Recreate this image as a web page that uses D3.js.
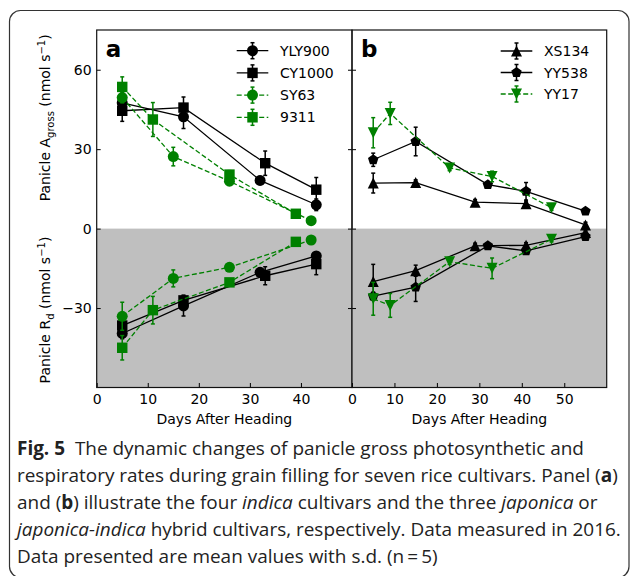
<!DOCTYPE html>
<html>
<head>
<meta charset="utf-8">
<script src="https://cdn.jsdelivr.net/npm/d3@7"></script>
<style>
  html, body { margin: 0; padding: 0; background: #fff; }
  svg { display: block; }
</style>
</head>
<body>
<svg id="fig" width="630" height="576"></svg>
<script>
// ---------- data: panel a (indica cultivars) ----------
const yly900Days   = [5, 17, 32, 43];
const yly900Gross  = [47.5, 42.2, 18.2, 9.0];
const yly900GrossSd = [1.5, 4.4, 1.5, 2.2];
const yly900Rd     = [-39.6, -29.2, -16.5, -10.3];
const yly900RdSd   = [2.0, 3.8, 1.5, 1.5];

const cy1000Days   = [5, 17, 33, 43];
const cy1000Gross  = [44.5, 45.7, 24.7, 14.7];
const cy1000GrossSd = [4.0, 4.0, 4.6, 4.6];
const cy1000Rd     = [-36.6, -27.1, -17.8, -13.4];
const cy1000RdSd   = [2.0, 2.0, 3.4, 4.0];

const sy63Days     = [5, 15, 26, 42];
const sy63Gross    = [49.5, 27.2, 17.9, 3.0];
const sy63GrossSd  = [2.0, 3.5, 1.0, 1.0];
const sy63Rd       = [-33.1, -18.8, -14.6, -4.3];
const sy63RdSd     = [5.3, 3.2, 1.0, 1.0];

const r9311Days    = [5, 11, 26, 39];
const r9311Gross   = [53.5, 41.2, 20.4, 5.6];
const r9311GrossSd = [3.8, 6.4, 1.5, 1.0];
const r9311Rd      = [-45.0, -30.8, -20.3, -5.0];
const r9311RdSd    = [4.6, 5.2, 1.0, 1.0];

// ---------- data: panel b (japonica / japonica-indica cultivars) ----------
const xs134Days    = [5, 15, 29, 41, 55];
const xs134Gross   = [17.2, 17.4, 10.0, 9.4, 1.4];
const xs134GrossSd = [3.75, 1.0, 1.0, 1.0, 1.0];
const xs134Rd      = [-20.0, -15.9, -6.5, -6.3, -1.5];
const xs134RdSd    = [6.5, 2.1, 1.0, 1.0, 1.0];

const yy538Days    = [5, 15, 32, 41, 55];
const yy538Gross   = [26.0, 32.9, 16.6, 14.1, 6.6];
const yy538GrossSd = [2.5, 5.4, 1.0, 3.3, 1.0];
const yy538Rd      = [-25.5, -22.1, -6.5, -8.4, -3.0];
const yy538RdSd    = [1.5, 5.4, 1.0, 1.0, 1.0];

const yy17Days     = [5, 9, 23, 33, 47];
const yy17Gross    = [36.2, 43.5, 22.9, 19.7, 7.9];
const yy17GrossSd  = [5.7, 4.2, 1.0, 2.0, 1.0];
const yy17Rd       = [-26.5, -29.0, -12.5, -15.0, -4.0];
const yy17RdSd     = [6.2, 4.5, 1.0, 3.9, 1.0];

// ---------- tick labels ----------
const xTicksA = [0, 10, 20, 30, 40];
const xTicksB = [0, 10, 20, 30, 40, 50];
const yTicks  = [-30, 0, 30, 60];

// ---------- styles ----------
const GREEN = "#008000";
const BLACK = "#000000";
const FONT = "'DejaVu Sans', sans-serif";

const seriesA = [
  { name: "YLY900", days: yly900Days, gross: yly900Gross, grossSd: yly900GrossSd, rd: yly900Rd, rdSd: yly900RdSd, color: BLACK, dash: null, shape: "circle" },
  { name: "CY1000", days: cy1000Days, gross: cy1000Gross, grossSd: cy1000GrossSd, rd: cy1000Rd, rdSd: cy1000RdSd, color: BLACK, dash: null, shape: "square" },
  { name: "SY63",   days: sy63Days,   gross: sy63Gross,   grossSd: sy63GrossSd,   rd: sy63Rd,   rdSd: sy63RdSd,   color: GREEN, dash: "5,2.5", shape: "circle" },
  { name: "9311",   days: r9311Days,  gross: r9311Gross,  grossSd: r9311GrossSd,  rd: r9311Rd,  rdSd: r9311RdSd,  color: GREEN, dash: "5,2.5", shape: "square" }
];
const seriesB = [
  { name: "XS134", days: xs134Days, gross: xs134Gross, grossSd: xs134GrossSd, rd: xs134Rd, rdSd: xs134RdSd, color: BLACK, dash: null, shape: "triUp" },
  { name: "YY538", days: yy538Days, gross: yy538Gross, grossSd: yy538GrossSd, rd: yy538Rd, rdSd: yy538RdSd, color: BLACK, dash: null, shape: "pentagon" },
  { name: "YY17",  days: yy17Days,  gross: yy17Gross,  grossSd: yy17GrossSd,  rd: yy17Rd,  rdSd: yy17RdSd,  color: GREEN, dash: "5,2.5", shape: "triDown" }
];

// ---------- layout ----------
const plotTop = 30, plotBottom = 387.5;
const y = d3.scaleLinear().domain([-60, 75]).range([plotBottom, plotTop]);
const xA = d3.scaleLinear().domain([0, 50]).range([96.7, 352]);
const xB = d3.scaleLinear().domain([0, 60]).range([352, 606.7]);

const svg = d3.select("#fig");

// outer rounded frame
svg.append("rect")
  .attr("x", 9.5).attr("y", 10.5)
  .attr("width", 619.5).attr("height", 567)
  .attr("rx", 11).attr("ry", 11)
  .attr("fill", "none").attr("stroke", "#333").attr("stroke-width", 1.2);

function markerPath(shape, r) {
  switch (shape) {
    case "circle":
      return d3.symbol(d3.symbolCircle, Math.PI * r * r)();
    case "square": {
      const s = r * 0.95;
      return `M${-s},${-s}H${s}V${s}H${-s}Z`;
    }
    case "triUp":
      return `M0,${-r}L${r},${r}L${-r},${r}Z`;
    case "triDown":
      return `M0,${r}L${r},${-r}L${-r},${-r}Z`;
    case "pentagon": {
      const pts = d3.range(5).map(k => {
        const a = -Math.PI / 2 + k * 2 * Math.PI / 5;
        return [r * Math.cos(a), r * Math.sin(a)];
      });
      return "M" + pts.map(p => p.join(",")).join("L") + "Z";
    }
  }
}

const MR = 5.5;   // marker radius
const CAP = 2;    // error-bar cap half width

function drawSeries(g, x, s, valKey, sdKey) {
  const pts = s.days.map((d, i) => ({ d, v: s[valKey][i], sd: s[sdKey][i] }));
  const grp = g.append("g");
  // error bars
  const eb = grp.selectAll(".eb").data(pts).enter().append("g")
    .attr("stroke", s.color).attr("stroke-width", 1.5).attr("fill", "none");
  eb.append("line")
    .attr("x1", p => x(p.d)).attr("x2", p => x(p.d))
    .attr("y1", p => y(p.v + p.sd)).attr("y2", p => y(p.v - p.sd));
  eb.append("line")
    .attr("x1", p => x(p.d) - CAP).attr("x2", p => x(p.d) + CAP)
    .attr("y1", p => y(p.v + p.sd)).attr("y2", p => y(p.v + p.sd));
  eb.append("line")
    .attr("x1", p => x(p.d) - CAP).attr("x2", p => x(p.d) + CAP)
    .attr("y1", p => y(p.v - p.sd)).attr("y2", p => y(p.v - p.sd));
  // connecting line
  grp.append("path")
    .datum(pts)
    .attr("d", d3.line().x(p => x(p.d)).y(p => y(p.v)))
    .attr("fill", "none").attr("stroke", s.color).attr("stroke-width", 1.3)
    .attr("stroke-dasharray", s.dash);
  // markers
  grp.selectAll(".mk").data(pts).enter().append("path")
    .attr("transform", p => `translate(${x(p.d)},${y(p.v)})`)
    .attr("d", markerPath(s.shape, MR))
    .attr("fill", s.color);
}

function drawPanel(x, series, xTicks, showYLabels, rightTicks, label, legendX, legendY0, legendStep) {
  const [x0, x1] = x.range();
  const g = svg.append("g");

  // grey respiration half
  g.append("rect")
    .attr("x", x0).attr("y", y(0))
    .attr("width", x1 - x0).attr("height", y(-60) - y(0))
    .attr("fill", "#bfbfbf");

  // x axis
  const xAxis = g.append("g")
    .attr("transform", `translate(0,${plotBottom})`)
    .call(d3.axisBottom(x).tickValues(xTicks).tickSize(-4.5).tickPadding(6.5));
  xAxis.select(".domain").remove();

  // y axis
  const yAxis = g.append("g")
    .attr("transform", `translate(${x0},0)`)
    .call(d3.axisLeft(y).tickValues(yTicks).tickSize(-4).tickPadding(5)
      .tickFormat(d => d < 0 ? "\u2212" + Math.abs(d) : d));
  yAxis.select(".domain").remove();
  if (!showYLabels) yAxis.selectAll("text").remove();

  if (rightTicks) {
    const yr = g.append("g")
      .attr("transform", `translate(${x1},0)`)
      .call(d3.axisRight(y).tickValues(yTicks).tickSize(-4).tickFormat(""));
    yr.select(".domain").remove();
  }

  [xAxis, yAxis].forEach(a => {
    a.selectAll("text").attr("font-family", FONT).attr("font-size", 14).attr("fill", "#000");
    a.selectAll("line").attr("stroke", "#000").attr("stroke-width", 1);
  });
  g.selectAll(".tick line").attr("stroke", "#000");

  // data
  series.forEach(s => drawSeries(g, x, s, "gross", "grossSd"));
  series.forEach(s => drawSeries(g, x, s, "rd", "rdSd"));

  // frame
  g.append("rect")
    .attr("x", x0).attr("y", plotTop)
    .attr("width", x1 - x0).attr("height", plotBottom - plotTop)
    .attr("fill", "none").attr("stroke", "#111").attr("stroke-width", 1.2);

  // x label
  g.append("text")
    .attr("x", (x0 + x1) / 2).attr("y", 423.5)
    .attr("text-anchor", "middle")
    .attr("font-family", FONT).attr("font-size", 14)
    .text("Days After Heading");

  // panel letter
  g.append("text")
    .attr("x", x0 + 9).attr("y", 56.5)
    .attr("font-family", FONT).attr("font-size", 23).attr("font-weight", "bold")
    .text(label);

  // legend
  const lg = g.append("g");
  series.forEach((s, i) => {
    const ly = legendY0 + i * legendStep;
    const row = lg.append("g").attr("transform", `translate(${legendX},${ly})`);
    row.append("line")
      .attr("x1", 0).attr("x2", 31.6).attr("y1", 0).attr("y2", 0)
      .attr("stroke", s.color).attr("stroke-width", 1.3)
      .attr("stroke-dasharray", s.dash);
    const mx = 15.8;
    row.append("line").attr("x1", mx).attr("x2", mx).attr("y1", -8).attr("y2", 8)
      .attr("stroke", s.color).attr("stroke-width", 1.5);
    row.append("line").attr("x1", mx - CAP).attr("x2", mx + CAP).attr("y1", -8).attr("y2", -8)
      .attr("stroke", s.color).attr("stroke-width", 1.5);
    row.append("line").attr("x1", mx - CAP).attr("x2", mx + CAP).attr("y1", 8).attr("y2", 8)
      .attr("stroke", s.color).attr("stroke-width", 1.5);
    row.append("path")
      .attr("transform", `translate(${mx},0)`)
      .attr("d", markerPath(s.shape, MR))
      .attr("fill", s.color);
    row.append("text")
      .attr("x", 43.3).attr("y", 0).attr("dy", "0.36em")
      .attr("font-family", FONT).attr("font-size", 14)
      .text(s.name);
  });
}

drawPanel(xA, seriesA, xTicksA, true, true, "a", 236.7, 50.7, 22.2);
drawPanel(xB, seriesB, xTicksB, false, false, "b", 500.7, 51, 21.5);

// y axis titles (one per half)
function yTitle(cy, main, sub) {
  const t = svg.append("text")
    .attr("transform", `translate(50,${cy}) rotate(-90)`)
    .attr("text-anchor", "middle")
    .attr("font-family", FONT).attr("font-size", 14);
  t.append("tspan").text("Panicle " + main);
  t.append("tspan").attr("dy", 3.5).attr("font-size", 10).text(sub);
  t.append("tspan").attr("dy", -3.5).text(" (nmol s");
  t.append("tspan").attr("dy", -5.5).attr("font-size", 10).text("\u22121");
  t.append("tspan").attr("dy", 5.5).text(")");
}
yTitle(117.8, "A", "gross");
yTitle(310, "R", "d");

// caption
const capFont = "'Open Sans', 'Noto Sans', sans-serif";
const capLines = [
  [["Fig. 5", "b"], ["  The dynamic changes of panicle gross photosynthetic and", ""]],
  [["respiratory rates during grain filling for seven rice cultivars. Panel (", ""], ["a", "b"], [")", ""]],
  [["and (", ""], ["b", "b"], [") illustrate the four ", ""], ["indica", "i"], [" cultivars and the three ", ""], ["japonica", "i"], [" or", ""]],
  [["japonica-indica", "i"], [" hybrid cultivars, respectively. Data measured in 2016.", ""]],
  [["Data presented are mean values with s.d. (n\u2009=\u20095)", ""]]
];
const capG = svg.append("g");
const capTexts = capLines.map((parts, i) => {
  const t = capG.append("text")
    .attr("x", 17).attr("y", 455 + i * 27)
    .attr("font-family", capFont).attr("font-size", 19)
    .attr("fill", "#222")
    .attr("xml:space", "preserve")
    .style("white-space", "pre");
  parts.forEach(([s, st]) => {
    const sp = t.append("tspan").text(s);
    if (st === "b") sp.attr("font-weight", "bold");
    if (st === "i") sp.attr("font-style", "italic");
  });
  return t;
});
// condense the caption horizontally so the longest line fills the box width
const refLen = capTexts[3].node().getComputedTextLength();
const sx = 604 / refLen;
capG.attr("transform", `translate(17,0) scale(${sx},1) translate(-17,0)`);
</script>
</body>
</html>
